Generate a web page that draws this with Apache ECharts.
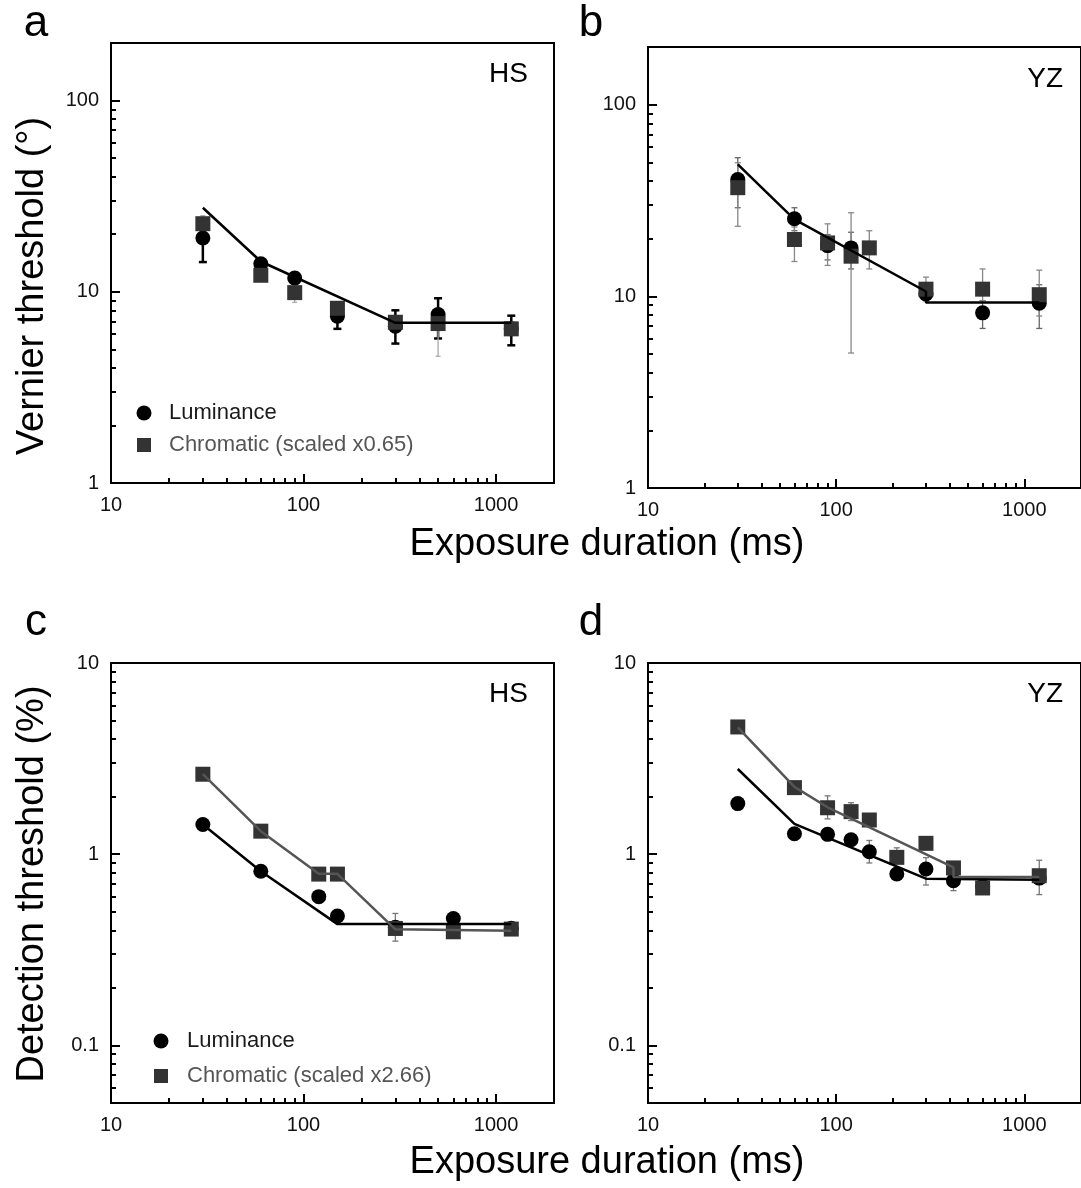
<!DOCTYPE html>
<html><head><meta charset="utf-8">
<script src="https://cdn.jsdelivr.net/npm/echarts@6/dist/echarts.min.js"></script>
<style>html,body{margin:0;padding:0;background:#fff}#c{width:1081px;height:1188px}</style>
</head><body><div id="c"></div>
<script>
// ---------- data (exposure duration in ms, thresholds) ----------
const durA = [30, 60, 90, 150, 300, 500, 1200];
const lumA = [19.1, 14.0, 11.8, 7.45, 6.6, 7.6, 6.4];
const chrA = [22.7, 12.2, 9.9, 8.2, 6.93, 6.82, 6.4];
const lumErrA = [[30, 14.3, 23], [60, 13.2, 14.8], [90, 11.1, 12.5], [150, 6.4, 8.6], [300, 5.36, 8.0], [500, 5.7, 9.25], [1200, 5.25, 7.5]];
const chrErrA = [[30, 21, 25], [90, 8.8, 11], [500, 4.6, 7.5]];
const fitA = [[30, 27.5], [60, 14.4], [300, 6.88], [1200, 6.88]];

const durBl = [30, 60, 90, 120, 300, 600, 1200];
const lumB = [40.7, 25.4, 18.4, 17.9, 10.3, 8.2, 9.2];
const durBc = [30, 60, 90, 120, 150, 300, 600, 1200];
const chrB = [36.9, 19.8, 19.0, 16.2, 17.9, 10.9, 10.9, 10.2];
const lumErrB = [[30, 29, 52.9], [60, 22, 29], [90, 15.5, 21], [120, 13.9, 21.6], [300, 9.5, 11], [600, 6.8, 9.5], [1200, 6.8, 11.5]];
const chrErrB = [[30, 23.2, 49.8], [60, 15.2, 23], [90, 14.5, 23.9], [120, 5.06, 27.3], [150, 13.9, 22.0], [300, 9.5, 12.6], [600, 9.5, 13.9], [1200, 7.9, 13.7]];
const fitB = [[30, 48.8], [60, 25.2], [300, 10.6], [300, 9.3], [1200, 9.3]];

const durC = [30, 60, 120, 150, 300, 600, 1200];
const lumC = [1.43, 0.815, 0.60, 0.475, 0.415, 0.461, 0.41];
const chrC = [2.62, 1.32, 0.787, 0.787, 0.409, 0.393, 0.406];
const chrErrC = [[300, 0.351, 0.49]];
const lumFitC = [[30, 1.43], [60, 0.815], [150, 0.431], [1200, 0.431]];
const chrFitC = [[30, 2.62], [60, 1.32], [120, 0.79], [150, 0.79], [300, 0.405], [1200, 0.398]];

const durD = [30, 60, 90, 120, 150, 210, 300, 420, 600, 1200];
const lumD = [1.84, 1.28, 1.27, 1.19, 1.03, 0.788, 0.837, 0.727, 0.68, 0.75];
const chrD = [4.63, 2.23, 1.75, 1.67, 1.51, 0.963, 1.14, 0.848, 0.666, 0.772];
const lumErrD = [[150, 0.90, 1.18], [300, 0.69, 0.96], [420, 0.645, 0.80]];
const chrErrD = [[90, 1.53, 2.02], [120, 1.50, 1.86], [210, 0.90, 1.08], [1200, 0.615, 0.93]];
const lumFitD = [[30, 2.79], [60, 1.44], [300, 0.745], [1200, 0.735]];
const chrFitD = [[30, 4.6], [60, 2.25], [90, 1.76], [420, 0.853], [420, 0.76], [1200, 0.76]];

// tick values
const xMajor = [10, 100, 1000];
const xMinor = [20, 30, 40, 50, 60, 70, 80, 90, 200, 300, 400, 500, 600, 700, 800, 900];
const yMajorTop = [1, 10, 100];
const yMinorTop = [2, 3, 4, 5, 6, 7, 8, 9, 20, 30, 40, 50, 60, 70, 80, 90];
const yMajorBot = [0.1, 1, 10];
const yMinorBot = [0.06, 0.07, 0.08, 0.09, 0.2, 0.3, 0.4, 0.5, 0.6, 0.7, 0.8, 0.9, 2, 3, 4, 5, 6, 7, 8, 9];
const xRange = [10, 2000];
const yRangeTop = [1, 200];
const yRangeBot = [0.05, 10];

// ---------- helpers ----------
const L = Math.log10;
const FONT = '"Liberation Sans", Arial, Helvetica, sans-serif';
const lbl = v => String(+Math.pow(10, v).toPrecision(3));

const grids = [
  {left: 111, top: 43, width: 443, height: 440},
  {left: 648, top: 47, width: 443, height: 441},
  {left: 111, top: 663, width: 443, height: 440},
  {left: 648, top: 663, width: 443, height: 440}
].map(g => Object.assign(g, {show: true, borderColor: '#000', borderWidth: 2, backgroundColor: 'transparent'}));

function axes(dim, gi, range, major, minor) {
  const base = {type: 'value', gridIndex: gi, min: L(range[0]), max: L(range[1]),
    position: dim === 'x' ? 'bottom' : 'left', axisLine: {show: false, onZero: false}, splitLine: {show: false}};
  return [
    Object.assign({}, base, {
      axisTick: {inside: true, length: 9, lineStyle: {color: '#000', width: 2}, customValues: major.map(L)},
      axisLabel: {customValues: major.map(L), formatter: lbl, margin: 12, fontSize: 20, color: '#111', fontFamily: FONT}
    }),
    Object.assign({}, base, {
      axisTick: {inside: true, length: 5, lineStyle: {color: '#000', width: 2}, customValues: minor.map(L)},
      axisLabel: {show: false}
    })
  ];
}

const xAxis = [], yAxis = [];
for (let g = 0; g < 4; g++) {
  xAxis.push(...axes('x', g, xRange, xMajor, xMinor));
  if (g < 2) yAxis.push(...axes('y', g, yRangeTop, yMajorTop, yMinorTop));
  else yAxis.push(...axes('y', g, yRangeBot, yMajorBot, yMinorBot));
}

function pts(xs, ys) { return xs.map((x, k) => [L(x), L(ys[k])]); }
function scatter(g, xs, ys, kind) {
  return {type: 'scatter', xAxisIndex: 2 * g, yAxisIndex: 2 * g, data: pts(xs, ys),
    symbol: kind === 'lum' ? 'circle' : 'rect', symbolSize: 15,
    itemStyle: {color: kind === 'lum' ? '#000' : '#333', opacity: 1}, z: kind === 'lum' ? 3 : 4, silent: true};
}
function fit(g, p, color) {
  return {type: 'line', xAxisIndex: 2 * g, yAxisIndex: 2 * g, data: p.map(q => [L(q[0]), L(q[1])]),
    symbol: 'none', lineStyle: {color: color, width: 2.5}, z: 5, silent: true};
}
function err(g, data, color, width, cap) {
  return {type: 'custom', xAxisIndex: 2 * g, yAxisIndex: 2 * g, z: 2, silent: true,
    data: data.map(e => [L(e[0]), L(e[1]), L(e[2])]),
    encode: {x: 0, y: [1, 2]},
    renderItem: (params, api) => {
      const x = api.value(0), lo = api.value(1), hi = api.value(2);
      const a = api.coord([x, hi]), b = api.coord([x, lo]);
      const st = {stroke: color, lineWidth: width};
      return {type: 'group', children: [
        {type: 'line', shape: {x1: a[0], y1: a[1], x2: b[0], y2: b[1]}, style: st},
        {type: 'line', shape: {x1: a[0] - cap, y1: a[1], x2: a[0] + cap, y2: a[1]}, style: st},
        {type: 'line', shape: {x1: b[0] - cap, y1: b[1], x2: b[0] + cap, y2: b[1]}, style: st}
      ]};
    }};
}

const series = [
  err(0, lumErrA, '#000', 2.5, 4), err(0, chrErrA, '#aaa', 1.3, 2.5),
  scatter(0, durA, lumA, 'lum'), scatter(0, durA, chrA, 'chr'), fit(0, fitA, '#000'),
  err(1, lumErrB, '#666', 1.3, 3), err(1, chrErrB, '#888', 1.3, 3),
  scatter(1, durBl, lumB, 'lum'), scatter(1, durBc, chrB, 'chr'), fit(1, fitB, '#000'),
  err(2, chrErrC, '#777', 1.3, 3),
  scatter(2, durC, lumC, 'lum'), scatter(2, durC, chrC, 'chr'),
  fit(2, lumFitC, '#000'), fit(2, chrFitC, '#555'),
  err(3, lumErrD, '#777', 1.3, 3), err(3, chrErrD, '#777', 1.3, 3),
  scatter(3, durD, lumD, 'lum'), scatter(3, durD, chrD, 'chr'),
  fit(3, lumFitD, '#000'), fit(3, chrFitD, '#555')
];

function txt(x, y, text, size, opts) {
  opts = opts || {};
  return {type: 'text', x: x, y: y, rotation: opts.rot || 0, silent: true, z: 10,
    style: {text: text, fontSize: size, fontFamily: FONT, fill: opts.fill || '#000',
      align: opts.align || 'center', verticalAlign: 'middle'}};
}
const graphic = [
  txt(36, 24, 'a', 44), txt(591, 24, 'b', 44), txt(36, 623, 'c', 44), txt(591, 623, 'd', 44),
  txt(528, 74, 'HS', 28, {align: 'right'}), txt(1063, 79, 'YZ', 28, {align: 'right'}),
  txt(528, 694, 'HS', 28, {align: 'right'}), txt(1063, 694, 'YZ', 28, {align: 'right'}),
  txt(607, 545, 'Exposure duration (ms)', 38), txt(607, 1163, 'Exposure duration (ms)', 38),
  txt(33, 286, 'Vernier threshold (°)', 38, {rot: Math.PI / 2}),
  txt(33, 884, 'Detection threshold (%)', 38, {rot: Math.PI / 2}),
  // legends
  {type: 'circle', shape: {cx: 144, cy: 413, r: 7.5}, style: {fill: '#000'}, silent: true},
  txt(169, 413, 'Luminance', 22, {align: 'left', fill: '#1a1a1a'}),
  {type: 'rect', shape: {x: 137, y: 438, width: 14, height: 14}, style: {fill: '#333'}, silent: true},
  txt(169, 445, 'Chromatic (scaled x0.65)', 22, {align: 'left', fill: '#555'}),
  {type: 'circle', shape: {cx: 161, cy: 1041, r: 7.5}, style: {fill: '#000'}, silent: true},
  txt(187, 1041, 'Luminance', 22, {align: 'left', fill: '#1a1a1a'}),
  {type: 'rect', shape: {x: 154, y: 1069, width: 14, height: 14}, style: {fill: '#333'}, silent: true},
  txt(187, 1076, 'Chromatic (scaled x2.66)', 22, {align: 'left', fill: '#555'})
];

const chart = echarts.init(document.getElementById('c'), null, {renderer: 'canvas'});
chart.setOption({animation: false, backgroundColor: '#fff', grid: grids, xAxis: xAxis, yAxis: yAxis, series: series, graphic: graphic});
</script></body></html>
